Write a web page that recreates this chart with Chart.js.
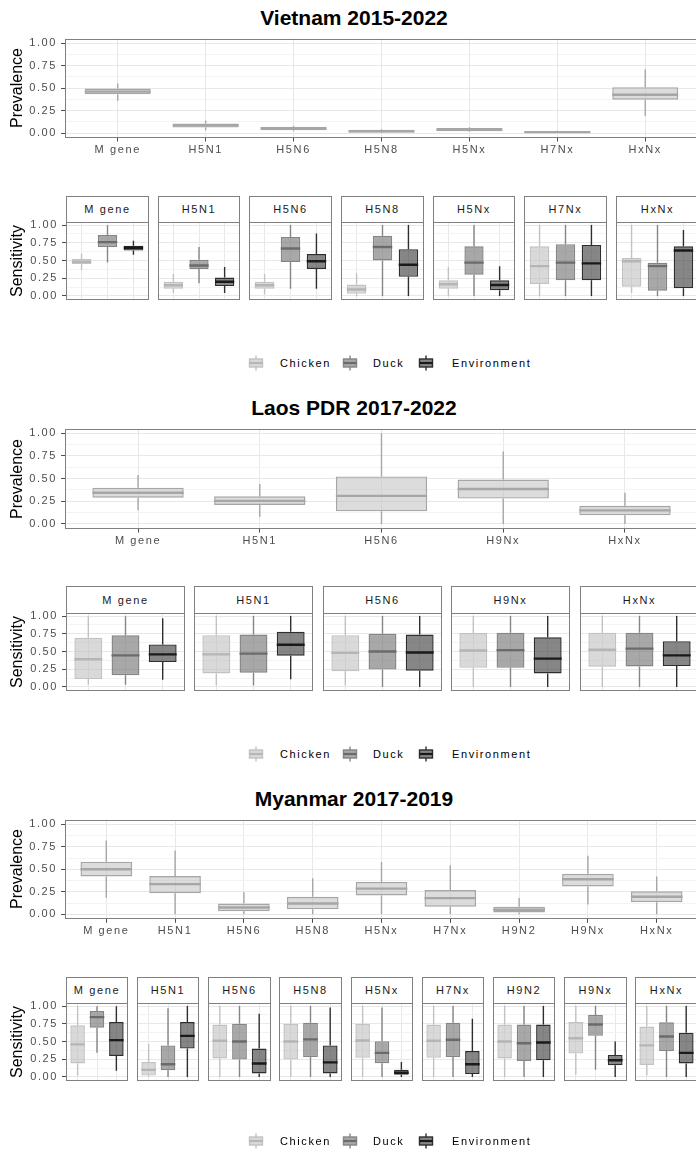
<!DOCTYPE html>
<html>
<head>
<meta charset="utf-8">
<script src="https://cdn.jsdelivr.net/npm/chart.js@4.4.1/dist/chart.umd.min.js"></script>
<style>
  body { margin: 0; background: #fff; }
  #page { position: relative; width: 696px; height: 1154px; overflow: hidden; font-family: "Liberation Sans", Arial, sans-serif; }
  #page canvas { position: absolute; }
  .title { position: absolute; left: 0; width: 708px; text-align: center; font-size: 21px; font-weight: bold; line-height: 24px; color: #000; }
  .axis-title { position: absolute; width: 120px; font-size: 16px; line-height: 18px; color: #000; text-align: center; white-space: nowrap; transform: rotate(-90deg); }
  .strip { position: absolute; box-sizing: border-box; border: 1px solid #808080; background: #fff; font-size: 11px; color: #1a1a1a; letter-spacing: 1.6px; text-align: center; }
  .key-label { position: absolute; font-size: 11px; line-height: 14px; letter-spacing: 1.6px; color: #000; }
</style>
</head>
<body>
<div id="page"></div>
<script>
// five-number summaries: [min, q1, median, q3, max]
var vnGenes = ['M gene', 'H5N1', 'H5N6', 'H5N8', 'H5Nx', 'H7Nx', 'HxNx'];
var vnPrev = [
  [0.36, 0.43, 0.46, 0.495, 0.55],
  [0.03, 0.06, 0.085, 0.105, 0.14],
  [0.02, 0.03, 0.05, 0.07, 0.08],
  [0.0, 0.005, 0.02, 0.037, 0.045],
  [0.01, 0.02, 0.035, 0.056, 0.065],
  [0.0, 0.0, 0.01, 0.022, 0.025],
  [0.19, 0.37, 0.425, 0.51, 0.71]
];
var vnChicken = [
  [0.37, 0.45, 0.48, 0.52, 0.60],
  [0.04, 0.10, 0.15, 0.20, 0.31],
  [0.02, 0.10, 0.15, 0.20, 0.31],
  [0.0, 0.03, 0.09, 0.16, 0.32],
  [0.0, 0.10, 0.165, 0.22, 0.41],
  [0.0, 0.17, 0.42, 0.70, 1.0],
  [0.04, 0.13, 0.49, 0.535, 1.0]
];
var vnDuck = [
  [0.47, 0.69, 0.76, 0.86, 1.0],
  [0.18, 0.38, 0.43, 0.51, 0.69],
  [0.10, 0.48, 0.67, 0.83, 1.0],
  [0.0, 0.50, 0.69, 0.85, 1.0],
  [0.0, 0.30, 0.47, 0.70, 1.0],
  [0.0, 0.22, 0.47, 0.73, 1.0],
  [0.0, 0.075, 0.42, 0.47, 1.0]
];
var vnEnv = [
  [0.58, 0.64, 0.68, 0.71, 0.78],
  [0.04, 0.14, 0.20, 0.26, 0.41],
  [0.10, 0.38, 0.49, 0.59, 0.88],
  [0.0, 0.27, 0.44, 0.66, 1.0],
  [0.0, 0.08, 0.155, 0.22, 0.42],
  [0.0, 0.22, 0.46, 0.72, 1.0],
  [0.0, 0.11, 0.64, 0.70, 0.93]
];

var laGenes = ['M gene', 'H5N1', 'H5N6', 'H9Nx', 'HxNx'];
var laPrev = [
  [0.15, 0.29, 0.345, 0.40, 0.54],
  [0.08, 0.21, 0.255, 0.305, 0.44],
  [0.0, 0.14, 0.31, 0.525, 1.0],
  [0.0, 0.28, 0.385, 0.49, 0.80],
  [0.0, 0.095, 0.15, 0.20, 0.345]
];
var laChicken = [
  [0.03, 0.11, 0.39, 0.695, 1.0],
  [0.02, 0.19, 0.46, 0.73, 1.0],
  [0.02, 0.22, 0.48, 0.73, 1.0],
  [0.0, 0.27, 0.515, 0.76, 1.0],
  [0.0, 0.285, 0.525, 0.765, 1.0]
];
var laDuck = [
  [0.03, 0.165, 0.445, 0.73, 1.0],
  [0.02, 0.20, 0.47, 0.74, 1.0],
  [0.0, 0.245, 0.50, 0.75, 1.0],
  [0.0, 0.27, 0.52, 0.765, 1.0],
  [0.0, 0.29, 0.54, 0.765, 1.0]
];
var laEnv = [
  [0.10, 0.35, 0.46, 0.60, 0.97],
  [0.11, 0.44, 0.595, 0.78, 1.0],
  [0.0, 0.23, 0.485, 0.74, 1.0],
  [0.0, 0.19, 0.40, 0.70, 1.0],
  [0.0, 0.295, 0.445, 0.645, 1.0]
];

var mmGenes = ['M gene', 'H5N1', 'H5N6', 'H5N8', 'H5Nx', 'H7Nx', 'H9N2', 'H9Nx', 'HxNx'];
var mmPrev = [
  [0.185, 0.42, 0.50, 0.585, 0.82],
  [0.0, 0.235, 0.335, 0.425, 0.71],
  [0.0, 0.035, 0.075, 0.12, 0.245],
  [0.0, 0.055, 0.12, 0.195, 0.40],
  [0.0, 0.21, 0.285, 0.36, 0.58],
  [0.0, 0.085, 0.18, 0.27, 0.545],
  [0.0, 0.02, 0.05, 0.085, 0.18],
  [0.11, 0.31, 0.39, 0.45, 0.65],
  [0.0, 0.135, 0.195, 0.255, 0.42]
];
var mmChicken = [
  [0.02, 0.19, 0.46, 0.73, 1.0],
  [0.0, 0.02, 0.10, 0.21, 0.47],
  [0.0, 0.26, 0.51, 0.74, 1.0],
  [0.0, 0.245, 0.50, 0.75, 1.0],
  [0.0, 0.27, 0.515, 0.75, 1.0],
  [0.0, 0.27, 0.51, 0.74, 1.0],
  [0.0, 0.26, 0.50, 0.74, 1.0],
  [0.03, 0.33, 0.545, 0.775, 1.0],
  [0.02, 0.17, 0.445, 0.71, 1.0]
];
var mmDuck = [
  [0.34, 0.695, 0.845, 0.93, 1.0],
  [0.0, 0.095, 0.18, 0.445, 0.97],
  [0.0, 0.245, 0.50, 0.75, 1.0],
  [0.0, 0.28, 0.53, 0.765, 1.0],
  [0.0, 0.195, 0.34, 0.505, 0.98],
  [0.0, 0.28, 0.525, 0.765, 1.0],
  [0.0, 0.225, 0.475, 0.74, 1.0],
  [0.10, 0.58, 0.74, 0.875, 1.0],
  [0.0, 0.365, 0.57, 0.77, 1.0]
];
var mmEnv = [
  [0.085, 0.295, 0.52, 0.775, 1.0],
  [0.0, 0.40, 0.58, 0.775, 1.0],
  [0.0, 0.05, 0.19, 0.40, 0.89],
  [0.0, 0.05, 0.205, 0.445, 0.98],
  [0.0, 0.03, 0.06, 0.10, 0.21],
  [0.0, 0.04, 0.18, 0.365, 0.82],
  [0.0, 0.235, 0.485, 0.74, 1.0],
  [0.0, 0.165, 0.235, 0.31, 0.50],
  [0.0, 0.19, 0.34, 0.625, 1.0]
];

var hosts = ['Chicken', 'Duck', 'Environment'];

// greys for the three hosts and for the prevalence boxes
var hostFill = ['rgba(185,185,185,0.55)', 'rgba(110,110,110,0.6)', 'rgba(60,60,60,0.62)'];
var hostLine = ['#c2c2c2', '#858585', '#2e2e2e'];
var hostMedian = ['#b5b5b5', '#6b6b6b', '#1a1a1a'];
var prevFill = 'rgba(185,185,185,0.5)';
var prevLine = '#a6a6a6';

Chart.defaults.font.family = '"Liberation Sans", Arial, sans-serif';
Chart.defaults.font.size = 11;
Chart.defaults.color = '#4d4d4d';
Chart.defaults.animation = false;
Chart.defaults.plugins.legend.display = false;
Chart.defaults.plugins.tooltip.enabled = false;

var page = document.getElementById('page');

function isMajor(v) {
	return Math.abs(v * 4 - Math.round(v * 4)) < 1e-6;
}

// whiskers, medians and the panel frame on top of the bars
var boxPlugin = {
	id: 'boxparts',
	beforeDraw: function(chart) {
		chart.ctx.letterSpacing = '1.6px';
	},
	afterDatasetsDraw: function(chart) {
		var ctx = chart.ctx;
		var yScale = chart.scales.y;
		var area = chart.chartArea;
		var ds = chart.data.datasets[0];
		var bars = chart.getDatasetMeta(0).data;
		ctx.save();
		ctx.beginPath();
		ctx.rect(area.left, area.top, area.right - area.left, area.bottom - area.top);
		ctx.clip();
		for (var i = 0; i < bars.length; i++) {
			var s = ds.stats[i];
			var x = bars[i].x, w = bars[i].width;
			ctx.strokeStyle = ds.borderColor[i];
			ctx.lineWidth = 1.4;
			ctx.beginPath();
			ctx.moveTo(x, yScale.getPixelForValue(s[0]));
			ctx.lineTo(x, yScale.getPixelForValue(s[1]));
			ctx.moveTo(x, yScale.getPixelForValue(s[3]));
			ctx.lineTo(x, yScale.getPixelForValue(s[4]));
			ctx.stroke();
			var ym = yScale.getPixelForValue(s[2]);
			ctx.strokeStyle = ds.medianColor[i];
			ctx.lineWidth = 2.4;
			ctx.beginPath();
			ctx.moveTo(x - w / 2, ym);
			ctx.lineTo(x + w / 2, ym);
			ctx.stroke();
		}
		ctx.restore();
		ctx.save();
		ctx.strokeStyle = '#808080';
		ctx.lineWidth = 1;
		ctx.strokeRect(Math.round(area.left) + 0.5, Math.round(area.top) + 0.5,
			Math.round(area.right - area.left) - 1, Math.round(area.bottom - area.top) - 1);
		ctx.restore();
	}
};

function addCanvas(left, top, width, height) {
	var c = document.createElement('canvas');
	c.width = width;
	c.height = height;
	c.style.left = left + 'px';
	c.style.top = top + 'px';
	c.style.width = width + 'px';
	c.style.height = height + 'px';
	page.appendChild(c);
	return c;
}

function addText(cls, text, left, top, width, height) {
	var d = document.createElement('div');
	d.className = cls;
	d.textContent = text;
	d.style.left = left + 'px';
	d.style.top = top + 'px';
	if (width !== undefined) d.style.width = width + 'px';
	if (height !== undefined) {
		d.style.height = height + 'px';
		d.style.lineHeight = (height - 2) + 'px';
	}
	page.appendChild(d);
	return d;
}

// one panel of boxplots: cats on x, 0..1 on y
function boxChart(canvas, cats, stats, fills, lines, medians, f) {
	return new Chart(canvas, {
		type: 'bar',
		data: {
			datasets: [{
				data: stats.map(function(s, i) { return {x: i, y: [s[1], s[3]]}; }),
				stats: stats,
				medianColor: medians,
				backgroundColor: fills,
				borderColor: lines,
				borderWidth: 1.4,
				borderSkipped: false,
				categoryPercentage: 1,
				barPercentage: 0.75
			}]
		},
		options: {
			responsive: false,
			devicePixelRatio: 1,
			layout: {padding: {top: f.padTop, bottom: f.padBottom, left: 0, right: 0}},
			scales: {
				x: {
					type: 'linear',
					offset: false,
					min: -0.6,
					max: cats.length - 0.4,
					afterFit: function(scale) { scale.height = f.xHeight; },
					border: {display: false},
					grid: {color: '#e8e8e8', lineWidth: 1, offset: false, drawTicks: f.showX, tickLength: 4, tickColor: '#4d4d4d'},
					ticks: {
						display: f.showX, stepSize: 1, includeBounds: false, autoSkip: false,
						maxRotation: 0, padding: 2, color: '#4d4d4d',
						callback: function(v) { return cats[v] !== undefined ? cats[v] : ''; }
					}
				},
				y: {
					min: -0.05,
					max: 1.05,
					afterFit: function(scale) { scale.width = f.yWidth; },
					border: {display: false},
					grid: {
						color: function(c) { return c.tick && isMajor(c.tick.value) ? '#e8e8e8' : '#f3f3f3'; },
						tickColor: function(c) { return c.tick && isMajor(c.tick.value) ? '#4d4d4d' : 'rgba(0,0,0,0)'; },
						drawTicks: f.showY,
						tickLength: 4
					},
					ticks: {
						display: f.showY, stepSize: 0.125, includeBounds: false, autoSkip: false,
						padding: 4, color: '#4d4d4d',
						callback: function(v) { return isMajor(v) ? v.toFixed(2) : ''; }
					}
				}
			}
		},
		plugins: [boxPlugin]
	});
}

function legendKey(left, top, h) {
	var c = addCanvas(left, top, 18, 18);
	var ctx = c.getContext('2d');
	ctx.strokeStyle = hostLine[h];
	ctx.lineWidth = 1.4;
	ctx.beginPath();
	ctx.moveTo(9, 1.5); ctx.lineTo(9, 5);
	ctx.moveTo(9, 13); ctx.lineTo(9, 16.5);
	ctx.stroke();
	ctx.fillStyle = hostFill[h];
	ctx.fillRect(2.5, 5, 13, 8);
	ctx.strokeRect(2.5, 5, 13, 8);
	ctx.strokeStyle = hostMedian[h];
	ctx.lineWidth = 2.2;
	ctx.beginPath();
	ctx.moveTo(2.5, 9); ctx.lineTo(15.5, 9);
	ctx.stroke();
}

function drawSection(title, genes, prev, chicken, duck, env, L) {
	addText('title', title, 0, L.titleY - 11.7);

	// prevalence panel
	var top = Math.floor(L.prevTop) - 10;
	var c = addCanvas(0, top, 698, Math.ceil(L.prevBottom + 28 - top));
	boxChart(c, genes, prev,
		prev.map(function() { return prevFill; }),
		prev.map(function() { return prevLine; }),
		prev.map(function() { return prevLine; }),
		{padTop: L.prevTop - top, padBottom: top + c.height - (L.prevBottom + 28), xHeight: 28, yWidth: 65, showX: true, showY: true});
	addText('axis-title', 'Prevalence', 17 - 60, (L.prevTop + L.prevBottom) / 2 - 9);

	// sensitivity facets, one per gene
	var ptop = Math.floor(L.panelTop) - 10;
	var pheight = Math.ceil(L.panelBottom + 10 - ptop);
	for (var g = 0; g < genes.length; g++) {
		var fl = L.facetLeft + g * L.facetStep;
		var first = g === 0;
		var left = first ? 0 : Math.round(fl);
		var width = Math.round(fl + L.facetWidth) - left;
		var fc = addCanvas(left, ptop, width, pheight);
		var st = [chicken[g], duck[g], env[g]];
		boxChart(fc, hosts, st, hostFill, hostLine, hostMedian,
			{padTop: L.panelTop - ptop, padBottom: pheight - (L.panelBottom - ptop), xHeight: 0,
			 yWidth: first ? Math.round(fl) : 0, showX: false, showY: first});
		addText('strip', genes[g], Math.round(fl), L.stripTop, width - (first ? Math.round(fl) : 0), Math.round(L.panelTop) - L.stripTop + 1);
	}
	addText('axis-title', 'Sensitivity', 17 - 60, (L.panelTop + L.panelBottom) / 2 - 9);

	// legend
	for (var h = 0; h < hosts.length; h++) {
		legendKey(L.keyX[h], L.legendY - 9, h);
		addText('key-label', hosts[h], L.labelX[h], L.legendY - 7);
	}
}

drawSection('Vietnam 2015-2022', vnGenes, vnPrev, vnChicken, vnDuck, vnEnv, {
	titleY: 17.5, prevTop: 38.5, prevBottom: 137.5,
	stripTop: 196, panelTop: 221.5, panelBottom: 299.5,
	facetLeft: 66, facetStep: 91.67, facetWidth: 82.5,
	legendY: 363, keyX: [247, 341, 417], labelX: [280, 373, 452]
});
drawSection('Laos PDR 2017-2022', laGenes, laPrev, laChicken, laDuck, laEnv, {
	titleY: 407.5, prevTop: 428.8, prevBottom: 528.5,
	stripTop: 586, panelTop: 612.5, panelBottom: 690.5,
	facetLeft: 65.7, facetStep: 128.5, facetWidth: 119,
	legendY: 754, keyX: [247, 341, 417], labelX: [280, 373, 452]
});
drawSection('Myanmar 2017-2019', mmGenes, mmPrev, mmChicken, mmDuck, mmEnv, {
	titleY: 798.5, prevTop: 819.8, prevBottom: 918.8,
	stripTop: 977, panelTop: 1002.5, panelBottom: 1080.5,
	facetLeft: 65.7, facetStep: 71.2, facetWidth: 62.5,
	legendY: 1141, keyX: [247, 341, 417], labelX: [280, 373, 452]
});
</script>
</body>
</html>
